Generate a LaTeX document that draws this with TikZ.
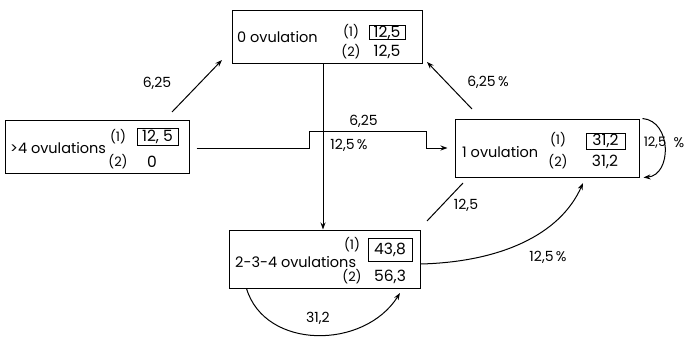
\documentclass[tikz,border=0pt]{standalone}
\usepackage{fontspec}
\setmainfont{Poppins}
\usetikzlibrary{arrows.meta,calc}
\begin{document}
\begin{tikzpicture}[x=1pt,y=-1pt,
  box/.style={draw,line width=1pt,inner sep=0pt},
  nm/.style={inner sep=0pt,anchor=west,font=\fontsize{14.5}{16}\selectfont},
  par/.style={inner sep=0pt,font=\fontsize{13}{15}\selectfont},
  num/.style={inner sep=0pt,font=\fontsize{15.5}{17}\selectfont},
  vbox/.style={draw,line width=1pt,inner sep=0pt,font=\fontsize{15.5}{17}\selectfont},
  lab/.style={inner sep=0pt,font=\fontsize{14}{16}\selectfont},
  arr/.style={line width=1pt,-{Stealth[length=7pt,width=5pt]}},
  ln/.style={line width=1pt}]
\useasboundingbox (0,0) rectangle (684,337);
% boxes
\node[box,minimum width=190pt,minimum height=52pt] (top) at (327,37) {};
\node[box,minimum width=184pt,minimum height=53pt] (left) at (97,146.5) {};
\node[box,minimum width=184pt,minimum height=58pt] (right) at (547,148) {};
\node[box,minimum width=191pt,minimum height=58pt] (bot) at (324.5,259) {};
% top box text
\node[nm] (t0) at (237,37) {0 ovulation};
\node[par] (t1) at (351,32) {(1)};
\node[vbox,minimum width=36pt,minimum height=14pt] (t1v) at (387,32.5) {12,5};
\node[par] (t2) at (351,52) {(2)};
\node[num] (t2v) at (387,52) {12,5};
% left box text
\node[nm] (l0) at (10,148) {>4 ovulations};
\node[par] (l1) at (118,137) {(1)};
\node[vbox,minimum width=41pt,minimum height=17pt] (l1v) at (157.5,136.5) {12, 5};
\node[par] (l2) at (118,162) {(2)};
\node[num] (l2v) at (152,162) {0};
% right box text
\node[nm] (r0) at (462,152) {1 ovulation};
\node[par] (r1) at (558,140) {(1)};
\node[vbox,minimum width=39pt,minimum height=16pt] (r1v) at (605.5,141) {31,2};
\node[par] (r2) at (558,162) {(2)};
\node[num] (r2v) at (605,162) {31,2};
% bottom box text
\node[nm] (b0) at (235,262) {2-3-4 ovulations};
\node[par] (b1) at (352,245) {(1)};
\node[vbox,minimum width=44pt,minimum height=23pt] (b1v) at (390,250) {43,8};
\node[par] (b2) at (352,277) {(2)};
\node[num] (b2v) at (390,277) {56,3};
% connectors
\coordinate (a1s) at (172,112); \coordinate (a1e) at (222,60);
\draw[arr] (a1s) -- (a1e);
\coordinate (a2s) at (472,109); \coordinate (a2e) at (427,62);
\draw[arr] (a2s) -- (a2e);
\draw[arr] ($(top.south)+(-4,0)$) -- ($(bot.north)+(-1.5,0)$);
\draw[arr] ($(left.east)+(7,1.5)$) -- (309,148) -- (309,131) -- (426,131) -- (426,148) -- ($(right.west)+(-7,0)$);
\coordinate (d1) at (427,221); \coordinate (d2) at (463,183);
\draw[ln] (d1) -- (d2);
\draw[arr] ($(bot.east)+(0,5)$) .. controls (500,262) and (560,235) .. (583,183);
\draw[arr] ($(right.north east)+(3,0)$) .. controls (672,121) and (672,175) .. ($(right.south east)+(4,0)$);
\draw[arr] ($(bot.south west)+(18,0)$) .. controls (265,350) and (364,350) .. (400,293);
% labels
\node[lab] (k1) at (157,83) {6,25};
\node[lab] (k2) at (488,82) {6,25\,\%};
\node[lab] (k3) at (363.5,121) {6,25};
\node[lab] (k4) at (349,145) {12,5\,\%};
\node[lab] (k5) at (466,205) {12,5};
\node[lab] (k6) at (548,257) {12,5\,\%};
\node[lab,font=\fontsize{13}{15}\selectfont] (k7) at (655,143) {12,5};
\node[lab] (k8) at (679,143) {\%};
\node[lab] (k9) at (318,318) {31,2};
\end{tikzpicture}
\end{document}
